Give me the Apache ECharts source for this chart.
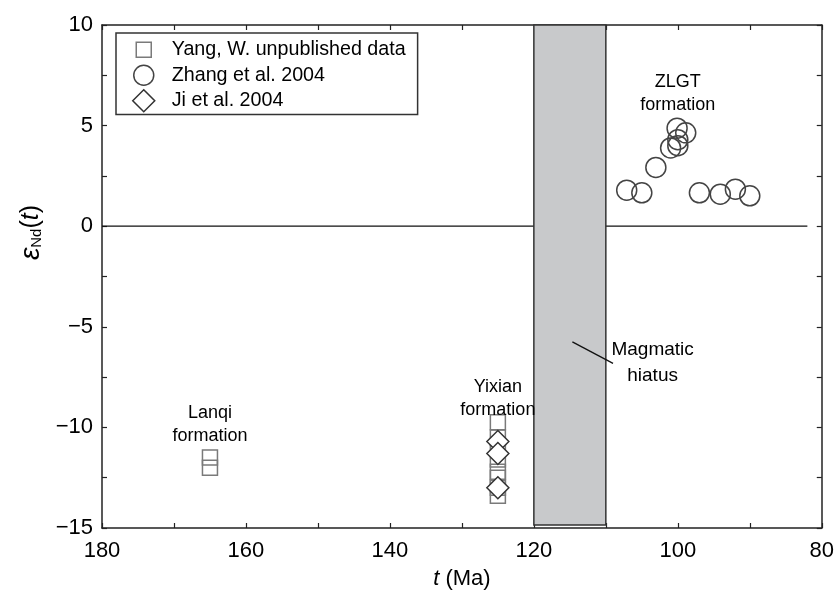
<!DOCTYPE html>
<html>
<head>
<meta charset="utf-8">
<script src="https://cdn.jsdelivr.net/npm/echarts@6/dist/echarts.min.js"></script>
<style>html,body{margin:0;padding:0;background:#fff;}#c{width:837px;height:597px;}</style>
</head>
<body>
<div id="c"></div>
<script>
// ---- data ----
const xTickLabels = [180, 160, 140, 120, 100, 80];
const yTickLabels = [10, 5, 0, -5, -10, -15];
const yangT = [165, 165, 125, 125, 125, 125, 125, 125, 125, 125];
const yangE = [-11.5, -12.0, -9.75, -10.5, -11.0, -11.6, -12.2, -12.5, -13.0, -13.4];
const zhangT = [100.1, 98.9, 101.0, 100.0, 100.0, 103.05, 107.1, 105.0, 97.0, 94.1, 92.0, 90.0];
const zhangE = [4.87, 4.64, 3.89, 4.0, 4.3, 2.92, 1.79, 1.66, 1.66, 1.59, 1.84, 1.51];
const jiT = [125, 125, 125];
const jiE = [-10.7, -11.3, -13.0];
const hiatusT = [120, 110];
const hiatusE = [-14.85, 10];
const zeroLineT = [180, 82];
const leaderT = [114.65, 109.0];
const leaderE = [-5.75, -6.82];
const noteT = [165, 125, 100, 103.5];
const noteE = [-9.87, -8.55, 6.6, -6.8];
const noteText = ['Lanqi\nformation', 'Yixian\nformation', 'ZLGT\nformation', 'Magmatic\nhiatus'];
const seriesNames = ['Yang, W. unpublished data', 'Zhang et al. 2004', 'Ji et al. 2004'];

const FONT = '"Liberation Sans", Arial, Helvetica, sans-serif';
const zip = (a, b) => a.map((v, i) => [v, b[i]]);

const sqIcon = 'path://M0,0M24,24M4.5,4.5L19.5,4.5L19.5,19.5L4.5,19.5Z';
const ciIcon = 'path://M0,0M24,24M22,12A10,10,0,1,1,2,12A10,10,0,1,1,22,12Z';
const diIcon = 'path://M0,0M24,24M12,1L23,12L12,23L1,12Z';

const chart = echarts.init(document.getElementById('c'), null, {renderer: 'canvas'});

const xLabelFmt = v => (xTickLabels.indexOf(v) >= 0 ? String(v) : '');
const yLabelFmt = v => (yTickLabels.indexOf(v) >= 0 ? String(v).replace('-', '\u2212') : '');

const axisCommon = {
  type: 'value',
  axisLine: {show: true, onZero: false, lineStyle: {color: '#222', width: 1.5}},
  axisTick: {show: true, inside: true, length: 5, lineStyle: {color: '#222', width: 1.2}},
  splitLine: {show: false},
  axisLabel: {color: '#000', fontFamily: FONT, fontSize: 22}
};

const option = {
  animation: false,
  backgroundColor: '#fff',
  grid: {left: 102, right: 15, top: 25, bottom: 69, containLabel: false},
  legend: {
    orient: 'vertical', left: 116, top: 33,
    itemWidth: 24, itemHeight: 24, itemGap: 0,
    padding: [4, 12, 1, 15],
    borderColor: '#333', borderWidth: 1.5, backgroundColor: '#fff',
    selectedMode: false,
    textStyle: {fontFamily: FONT, fontSize: 19.7, color: '#000', padding: [0, 0, 0, 11]},
    data: [
      {name: seriesNames[0], icon: sqIcon, itemStyle: {color: 'rgba(0,0,0,0)', borderColor: '#7a7a7a', borderWidth: 1.5}},
      {name: seriesNames[1], icon: ciIcon, itemStyle: {color: 'rgba(0,0,0,0)', borderColor: '#444', borderWidth: 1.5}},
      {name: seriesNames[2], icon: diIcon, itemStyle: {color: '#fff', borderColor: '#333', borderWidth: 1.5}}
    ]
  },
  xAxis: [
    Object.assign({}, axisCommon, {
      position: 'bottom', inverse: true, min: 80, max: 180, interval: 10,
      axisLabel: Object.assign({}, axisCommon.axisLabel, {formatter: xLabelFmt, margin: 12}),
      name: '{t|t} (Ma)', nameLocation: 'middle', nameGap: 40,
      nameTextStyle: {fontFamily: FONT, fontSize: 22, color: '#000',
        rich: {t: {fontFamily: FONT, fontSize: 22, fontStyle: 'italic', color: '#000'}}}
    }),
    Object.assign({}, axisCommon, {
      position: 'top', inverse: true, min: 80, max: 180, interval: 10,
      axisLabel: {show: false}
    })
  ],
  yAxis: [
    Object.assign({}, axisCommon, {
      position: 'left', min: -15, max: 10, interval: 2.5,
      axisLabel: Object.assign({}, axisCommon.axisLabel, {formatter: yLabelFmt, margin: 9}),
      name: '{e|\u03b5}{s|Nd}{p|(}{t|t}{p|)}', nameLocation: 'middle', nameGap: 52, nameRotate: 90,
      nameTextStyle: {
        padding: [0, 0, 0, 88],
        rich: {
          e: {fontFamily: FONT, fontSize: 28, fontStyle: 'italic', color: '#000', verticalAlign: 'middle'},
          s: {fontFamily: FONT, fontSize: 15, color: '#000', verticalAlign: 'bottom', padding: [12, 0, 0, 0]},
          p: {fontFamily: FONT, fontSize: 25, color: '#000'},
          t: {fontFamily: FONT, fontSize: 25, fontStyle: 'italic', color: '#000'}
        }
      }
    }),
    Object.assign({}, axisCommon, {
      position: 'right', min: -15, max: 10, interval: 2.5,
      axisLabel: {show: false}
    })
  ],
  series: [
    {
      type: 'line', name: 'zero', z: 1, silent: true,
      data: zeroLineT.map(t => [t, 0]), symbol: 'none',
      lineStyle: {color: '#111', width: 1.2}
    },
    {
      type: 'custom', name: 'hiatus', z: 3, silent: true,
      data: [[hiatusT[0], hiatusT[1], hiatusE[0], hiatusE[1]]],
      encode: {x: [0, 1], y: [2, 3]},
      renderItem: function (params, api) {
        const p1 = api.coord([api.value(0), api.value(3)]);
        const p2 = api.coord([api.value(1), api.value(2)]);
        return {
          type: 'rect',
          shape: {x: Math.min(p1[0], p2[0]), y: Math.min(p1[1], p2[1]),
                  width: Math.abs(p2[0] - p1[0]), height: Math.abs(p2[1] - p1[1])},
          style: {fill: '#c8c9cb', stroke: '#333', lineWidth: 1.5}
        };
      }
    },
    {
      type: 'line', name: 'leader', z: 4, silent: true,
      data: zip(leaderT, leaderE), symbol: 'none',
      lineStyle: {color: '#111', width: 1.3}
    },
    {
      type: 'scatter', name: seriesNames[0], z: 5,
      data: zip(yangT, yangE), symbol: 'rect', symbolSize: 15,
      itemStyle: {color: 'rgba(0,0,0,0)', borderColor: '#7a7a7a', borderWidth: 1.5, opacity: 1}
    },
    {
      type: 'scatter', name: seriesNames[1], z: 5,
      data: zip(zhangT, zhangE), symbol: 'circle', symbolSize: 20,
      itemStyle: {color: 'rgba(0,0,0,0)', borderColor: '#444', borderWidth: 1.5, opacity: 1}
    },
    {
      type: 'scatter', name: seriesNames[2], z: 6,
      data: zip(jiT, jiE), symbol: 'diamond', symbolSize: 22,
      itemStyle: {color: '#fff', borderColor: '#333', borderWidth: 1.5, opacity: 1}
    },
    {
      type: 'scatter', name: 'notes', z: 7, silent: true,
      data: noteT.map((t, i) => ({value: [t, noteE[i], noteText[i]],
        label: i === 3 ? {fontSize: 19, lineHeight: 26} : {}})),
      symbolSize: 1, itemStyle: {color: 'rgba(0,0,0,0)', opacity: 1},
      label: {show: true, position: 'inside', formatter: p => p.data.value[2],
        fontFamily: FONT, fontSize: 18, lineHeight: 23, color: '#000', opacity: 1, textBorderWidth: 0}
    }
  ]
};
chart.setOption(option);
</script>
</body>
</html>
